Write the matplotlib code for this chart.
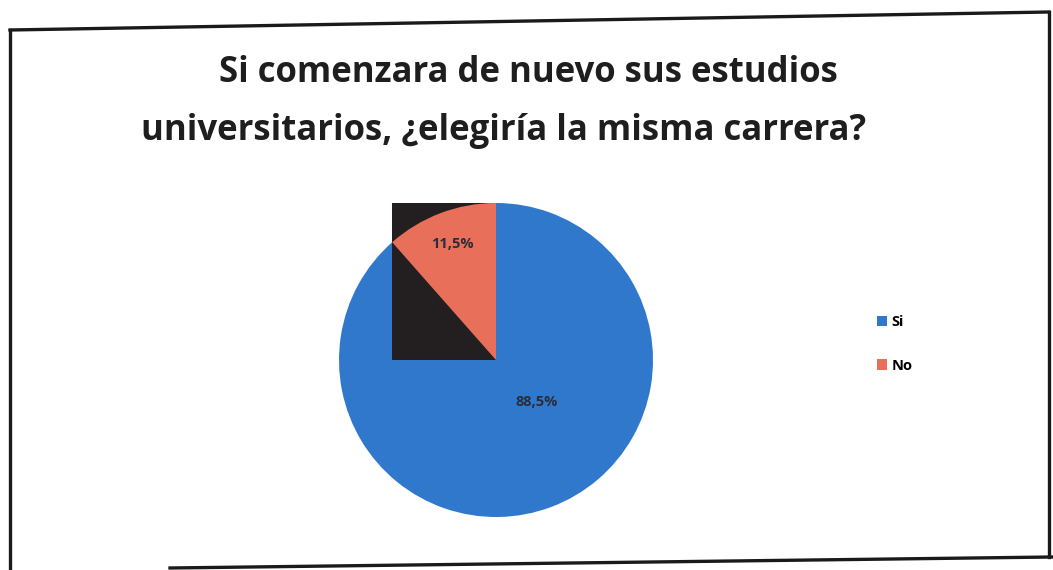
import matplotlib.pyplot as plt
from matplotlib.lines import Line2D
from matplotlib.patches import Rectangle

# Data
labels = ['Si', 'No']
values = [88.5, 11.5]
colors = ['#2f78cc', '#e8705a']
title_lines = ['Si comenzara de nuevo sus estudios',
               'universitarios, ¿elegiría la misma carrera?']

plt.rcParams['font.family'] = ['Open Sans', 'DejaVu Sans']

W, H = 1053, 570
fig = plt.figure(figsize=(W / 100, H / 100), dpi=100)

# pie axes: center (496, 360) px, radius 157 px
cx, cy, r = 496, 360, 157
ax = fig.add_axes([(cx - r) / W, (H - cy - r) / H, 2 * r / W, 2 * r / H])

wedges, texts, autotexts = ax.pie(
    values, colors=colors, startangle=90, counterclock=False,
    autopct=lambda p: f'{p:.1f}%'.replace('.', ','), pctdistance=0.79,
    textprops=dict(fontsize=10.5, fontweight='bold', color='#2a2d3a'))
ax.set_xlim(-1, 1)
ax.set_ylim(-1, 1)

# scan artifact: black bounding box behind the "No" slice
bb = wedges[1].get_path().get_extents()
ax.add_patch(Rectangle((bb.x0, bb.y0), bb.width, bb.height,
                       facecolor='#231f20', edgecolor='none', zorder=1.5))
wedges[1].set_zorder(2)
for t in autotexts:
    t.set_zorder(3)
autotexts[0].set_position((0.26, -0.27))

# title, two centred lines (the scan is slightly skewed)
for line, (x, y) in zip(title_lines, [(528, 73), (504, 131)]):
    fig.text(x / W, 1 - y / H, line, ha='center', va='center',
             fontsize=25, fontweight='bold', color='#1e1e1e')

handles = [Rectangle((0, 0), 1, 1, facecolor=c) for c in colors]
leg = fig.legend(handles, labels, loc='center left',
                 bbox_to_anchor=(864 / W, 1 - 344 / H), frameon=False,
                 handlelength=0.7, handleheight=0.7, handletextpad=0.3,
                 labelspacing=2.0, prop=dict(size=10.5, weight='bold'))

# hand-drawn frame of the scanned page
lw = 2.4
fig.add_artist(Line2D([10 / W, 1049 / W], [1 - 30 / H, 1 - 12 / H], color='#1a1a1a', lw=lw, transform=fig.transFigure))
fig.add_artist(Line2D([10 / W, 10 / W], [1 - 30 / H, 0], color='#1a1a1a', lw=lw, transform=fig.transFigure))
fig.add_artist(Line2D([1049 / W, 1049 / W], [1 - 12 / H, 1 - 557 / H], color='#1a1a1a', lw=lw, transform=fig.transFigure))
fig.add_artist(Line2D([170 / W, 1 - 0.5 / W], [1 - 568 / H, 1 - 557 / H], color='#1a1a1a', lw=lw, transform=fig.transFigure))

fig.savefig('out.png', dpi=100)
